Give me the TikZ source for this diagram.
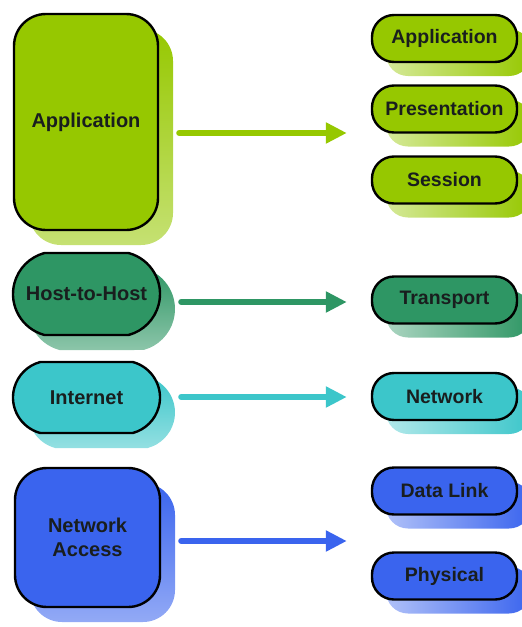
\documentclass[tikz,border=0pt]{standalone}
\usepackage{fontspec}
\setmainfont{Liberation Sans}
\usetikzlibrary{arrows.meta,shadows,shapes.misc}
\definecolor{cgreen}{RGB}{150,200,0}
\definecolor{chost}{RGB}{46,150,100}
\definecolor{cteal}{RGB}{60,198,202}
\definecolor{cblue}{RGB}{58,100,238}
\definecolor{ctext}{RGB}{25,30,30}
\tikzset{
  layerbox/.style n args={2}{draw=black, line width=2.4pt, fill=#1,
    rounded corners=#2, inner sep=0pt, align=center,
    font=\fontsize{20}{24}\selectfont\bfseries, text=ctext,
    general shadow={shadow xshift=15pt, shadow yshift=-15pt, draw=none,
      top color=#1, bottom color=#1!55!white}},
  ovalbox/.style={draw=black, line width=2.4pt, fill=#1,
    shape=rounded rectangle, rounded rectangle arc length=150, inner sep=0pt, align=center,
    font=\fontsize{20}{24}\selectfont\bfseries, text=ctext,
    general shadow={shadow xshift=15pt, shadow yshift=-15pt, draw=none,
      top color=#1, bottom color=#1!55!white}},
  pillbox/.style={draw=black, line width=2.4pt, fill=#1,
    rounded corners=22pt, inner sep=0pt, minimum width=145pt, minimum height=47pt,
    font=\fontsize{19.5}{24}\selectfont\bfseries, text=ctext,
    general shadow={shadow xshift=14pt, shadow yshift=-14pt, draw=none,
      left color=#1!40!white, right color=#1}},
  flowarrow/.style={draw=#1, line width=6pt, line cap=round,
    -{Triangle[length=21pt,width=20pt]}, shorten <=20pt, shorten >=24pt}
}
\begin{document}
\begin{tikzpicture}[x=1pt,y=1pt]
\useasboundingbox (0,0) rectangle (522,-627);
% left column
\node[layerbox={cgreen}{32pt}, minimum width=144pt, minimum height=216pt] (appL) at (86,-122) {Application};
\node[ovalbox=chost, minimum width=147pt, minimum height=82pt] (host) at (86.5,-294) {Host-to-Host};
\node[ovalbox=cteal, minimum width=147pt, minimum height=71pt] (inet) at (86.5,-397.5) {Internet};
\node[layerbox={cblue}{32pt}, minimum width=145pt, minimum height=139pt] (nacc) at (87.5,-537.5) {Network\\Access};
% right column
\node[pillbox=cgreen] (appR) at (444.5,-38.5) {Application};
\node[pillbox=cgreen] (pres) at (444.5,-109) {Presentation};
\node[pillbox=cgreen] (sess) at (444.5,-180) {Session};
\node[pillbox=chost] (trans) at (444.5,-300) {Transport};
\node[pillbox=cteal] (netw) at (444.5,-396.5) {Network};
\node[pillbox=cblue] (dlink) at (444.5,-491) {Data Link};
\node[pillbox=cblue] (phys) at (444.5,-576) {Physical};
% arrow levels
\coordinate (y1) at (0,-133);
\coordinate (y2) at (0,-302);
\coordinate (y3) at (0,-397);
\coordinate (y4) at (0,-541);
\draw[flowarrow=cgreen] (appL.east |- y1) -- (pres.west |- y1);
\draw[flowarrow=chost] (host.east |- y2) -- (trans.west |- y2);
\draw[flowarrow=cteal] (inet.east |- y3) -- (netw.west |- y3);
\draw[flowarrow=cblue] (nacc.east |- y4) -- (dlink.west |- y4);
\end{tikzpicture}
\end{document}
